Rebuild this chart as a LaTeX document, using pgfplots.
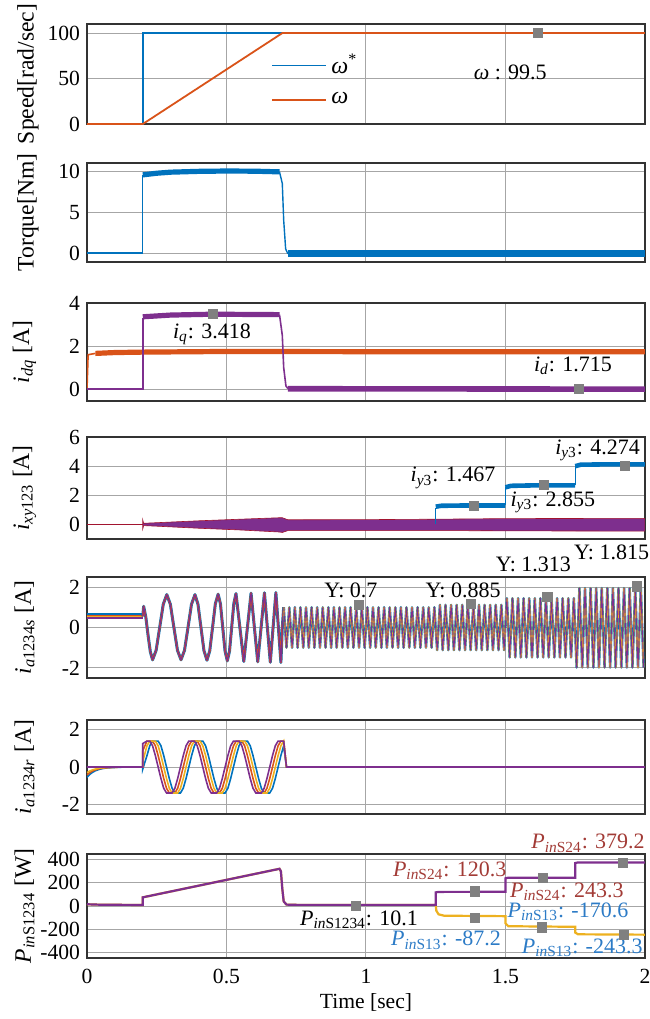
\documentclass[border=0pt]{standalone}
\usepackage{fontspec}
\setmainfont{Liberation Serif}
\usepackage{pgfplots}
\pgfplotsset{compat=1.18}
\usepackage{pgfplotstable}
\definecolor{mblue}{HTML}{0072BD}
\definecolor{morange}{HTML}{D95319}
\definecolor{myellow}{HTML}{EDB120}
\definecolor{mpurple}{HTML}{7E2F8E}
\definecolor{mgreen}{HTML}{77AC30}
\definecolor{mred}{HTML}{A2142F}
\definecolor{mgray}{HTML}{808080}
\definecolor{txtred}{HTML}{A23B36}
\definecolor{txtblue}{HTML}{2C7BC6}
\newcommand{\fa}{\rmfamily\fontsize{11}{13}\selectfont}

% stator phase-a currents: acceleration (chirp) part
\pgfplotstableread[row sep=\\]{
t v\\
0.200 0.55\\0.203 1.05\\0.211 0.50\\0.219 -0.40\\0.227 -1.20\\0.235 -1.60\\
0.2478 -1.13\\0.2605 0\\0.2733 1.15\\0.286 1.63\\0.2988 1.15\\0.3115 0\\0.3243 -1.13\\0.337 -1.60\\
0.3495 -1.13\\0.362 0\\0.3745 1.15\\0.387 1.63\\0.3978 1.15\\0.4085 0\\0.4193 -1.15\\0.430 -1.62\\
0.440 -1.15\\0.450 0\\0.460 1.17\\0.470 1.65\\0.4783 1.17\\0.4865 0\\0.4948 -1.17\\0.503 -1.65\\
0.5108 -1.17\\0.5185 0\\0.5263 1.19\\0.534 1.68\\0.548 0\\0.562 -1.68\\0.575 0\\0.588 1.70\\
0.600 0\\0.612 -1.70\\0.624 0\\0.636 1.72\\0.6465 0\\0.657 -1.72\\0.667 0\\0.677 1.73\\0.686 0\\0.695 -1.73\\0.700 0\\0.705 1\\
}\statorA
% stator phase-a currents: constant-speed part
\pgfplotstableread[row sep=\\]{
t v\\
0.705 1\\0.715 -1\\0.725 1\\0.735 -1\\0.745 1\\0.755 -1\\0.765 1\\0.775 -1\\0.785 1\\0.795 -1\\
0.805 1\\0.815 -1\\0.825 1\\0.835 -1\\0.845 1\\0.855 -1\\0.865 1\\0.875 -1\\0.885 1\\0.895 -1\\
0.905 1\\0.915 -1\\0.925 1\\0.935 -1\\0.945 1\\0.955 -1\\0.965 1\\0.975 -1\\0.985 1\\0.995 -1\\
1.005 1\\1.015 -1\\1.025 1\\1.035 -1\\1.045 1\\1.055 -1\\1.065 1\\1.075 -1\\1.085 1\\1.095 -1\\
1.105 1\\1.115 -1\\1.125 1\\1.135 -1\\1.145 1\\1.155 -1\\1.165 1\\1.175 -1\\1.185 1\\1.195 -1\\
1.205 1\\1.215 -1\\1.225 1\\1.235 -1\\1.245 1\\
1.255 -1.12\\1.265 1.12\\1.275 -1.12\\1.285 1.12\\1.295 -1.12\\1.305 1.12\\1.315 -1.12\\1.325 1.12\\1.335 -1.12\\1.345 1.12\\
1.355 -1.12\\1.365 1.12\\1.375 -1.12\\1.385 1.12\\1.395 -1.12\\1.405 1.12\\1.415 -1.12\\1.425 1.12\\1.435 -1.12\\1.445 1.12\\
1.455 -1.12\\1.465 1.12\\1.475 -1.12\\1.485 1.12\\1.495 -1.12\\
1.505 1.45\\1.515 -1.48\\1.525 1.45\\1.535 -1.48\\1.545 1.45\\1.555 -1.48\\1.565 1.45\\1.575 -1.48\\1.585 1.45\\1.595 -1.48\\
1.605 1.45\\1.615 -1.48\\1.625 1.45\\1.635 -1.48\\1.645 1.45\\1.655 -1.48\\1.665 1.45\\1.675 -1.48\\1.685 1.45\\1.695 -1.48\\
1.705 1.45\\1.715 -1.48\\1.725 1.45\\1.735 -1.48\\1.745 1.45\\
1.755 -1.98\\1.765 1.95\\1.775 -1.98\\1.785 1.95\\1.795 -1.98\\1.805 1.95\\1.815 -1.98\\1.825 1.95\\1.835 -1.98\\1.845 1.95\\
1.855 -1.98\\1.865 1.95\\1.875 -1.98\\1.885 1.95\\1.895 -1.98\\1.905 1.95\\1.915 -1.98\\1.925 1.95\\1.935 -1.98\\1.945 1.95\\
1.955 -1.98\\1.965 1.95\\1.975 -1.98\\1.985 1.95\\1.995 -1.98\\
}\statorB

% rotor phase-a currents of the four sets
\pgfplotstableread[row sep=\\]{
t p o y b\\
0.000 0 -0.42 -0.30 -0.55\\0.010 0 -0.30 -0.21 -0.39\\0.020 0 -0.21 -0.15 -0.28\\0.030 0 -0.15 -0.11 -0.20\\
0.045 0 -0.09 -0.06 -0.12\\0.060 0 -0.05 -0.04 -0.07\\0.080 0 -0.03 -0.02 -0.04\\0.110 0 -0.01 -0.01 -0.015\\
0.150 0 0 0 0\\0.200 0 0 0 0\\0.200 1.25 0.87 0.30 -0.10\\
0.215 1.38 1.38 1.13 0.61\\0.225 1.38 1.38 1.38 1.13\\0.235 1.13 1.38 1.38 1.38\\0.245 0.61 1.13 1.38 1.38\\
0.255 0 0.61 1.13 1.38\\0.265 -0.61 0 0.61 1.13\\0.275 -1.13 -0.61 0 0.61\\0.285 -1.38 -1.13 -0.61 0\\
0.295 -1.38 -1.38 -1.13 -0.61\\0.305 -1.38 -1.38 -1.38 -1.13\\0.315 -1.13 -1.38 -1.38 -1.38\\0.325 -0.61 -1.13 -1.38 -1.38\\
0.335 0 -0.61 -1.13 -1.38\\0.345 0.61 0 -0.61 -1.13\\0.355 1.13 0.61 0 -0.61\\0.365 1.38 1.13 0.61 0\\
0.375 1.38 1.38 1.13 0.61\\0.385 1.38 1.38 1.38 1.13\\0.395 1.13 1.38 1.38 1.38\\0.405 0.61 1.13 1.38 1.38\\
0.415 0 0.61 1.13 1.38\\0.425 -0.61 0 0.61 1.13\\0.435 -1.13 -0.61 0 0.61\\0.445 -1.38 -1.13 -0.61 0\\
0.455 -1.38 -1.38 -1.13 -0.61\\0.465 -1.38 -1.38 -1.38 -1.13\\0.475 -1.13 -1.38 -1.38 -1.38\\0.485 -0.61 -1.13 -1.38 -1.38\\
0.495 0 -0.61 -1.13 -1.38\\0.505 0.61 0 -0.61 -1.13\\0.515 1.13 0.61 0 -0.61\\0.525 1.38 1.13 0.61 0\\
0.535 1.38 1.38 1.13 0.61\\0.545 1.38 1.38 1.38 1.13\\0.555 1.13 1.38 1.38 1.38\\0.565 0.61 1.13 1.38 1.38\\
0.575 0 0.61 1.13 1.38\\0.585 -0.61 0 0.61 1.13\\0.595 -1.13 -0.61 0 0.61\\0.605 -1.38 -1.13 -0.61 0\\
0.615 -1.38 -1.38 -1.13 -0.61\\0.625 -1.38 -1.38 -1.38 -1.13\\0.635 -1.13 -1.38 -1.38 -1.38\\0.645 -0.61 -1.13 -1.38 -1.38\\
0.655 0 -0.61 -1.13 -1.38\\0.665 0.61 0 -0.61 -1.13\\0.675 1.13 0.61 0 -0.61\\0.685 1.38 1.13 0.61 0\\
0.695 1.38 1.38 1.13 0.61\\0.705 1.38 1.38 1.38 1.13\\0.715 0 0 0 0\\2.000 0 0 0 0\\
}\rotor

\pgfplotsset{
  panel/.style={
    scale only axis, width=279pt, xmin=0, xmax=2,
    xtick={0,0.5,1,1.5,2}, xticklabels={},
    grid=major, major grid style={draw=black!35, line width=0.5pt},
    axis line style={draw=black!80, line width=0.7pt},
    major tick length=0pt,
    tick label style={font=\rmfamily\fontsize{10.8}{12}\selectfont},
    /pgf/number format/assume math mode=true,
    ylabel style={font=\rmfamily\fontsize{11.8}{13}\selectfont, at={(axis description cs:-0.112,0.5)}, anchor=center},
    clip mode=individual, anchor=north west,
  },
  gmark/.style={only marks, mark=square*, mark size=2.3pt, color=mgray, mark options={draw=mgray, fill=mgray}},
}

\begin{document}
\begin{tikzpicture}
% ---------- Speed ----------
\begin{axis}[panel, at={(0pt,0pt)}, height=50pt, ymin=0, ymax=110, ytick={0,50,100},
  ylabel={Speed[rad/sec]}, ylabel style={at={(axis description cs:-0.106,0.5)}},
  legend style={draw=none, fill=none, at={(axis description cs:0.33,0.74)}, anchor=north west,
    font=\rmfamily\fontsize{12}{13}\selectfont, row sep=4pt, inner sep=0pt},
  legend cell align=left,
  legend image code/.code={\draw[#1] (0pt,0pt) -- (27pt,0pt);}]
\addplot[mblue, line width=0.8pt] coordinates {(0,0)(0.2,0)(0.2,100)(2,100)};
\addlegendentry{\textit{ω}\textsuperscript{*}}
\addplot[morange, line width=0.9pt] coordinates {(0,0)(0.2,0)(0.7,100)(2,100)};
\addlegendentry{\textit{ω}}
\addplot[gmark, forget plot] coordinates {(1.615,100)};
\node[font=\fa] at (axis cs:1.517,57) {\textit{ω} : 99.5};
\end{axis}
% ---------- Torque ----------
\begin{axis}[panel, at={(0pt,-69.5pt)}, height=49.5pt, ymin=-1.1, ymax=11, ytick={0,5,10},
  ylabel={Torque[Nm]}, ylabel style={at={(axis description cs:-0.106,0.5)}}]
\addplot[mblue, line width=0.7pt] coordinates {(0,0)(0.2,0)(0.2,9.5)};
\addplot[mblue, line width=2.6pt] coordinates {(0.2,9.55)(0.25,9.75)(0.3,9.88)(0.4,9.98)(0.5,10.02)(0.6,10.0)(0.69,9.92)};
\addplot[mblue, line width=0.7pt] coordinates {(0.69,9.92)(0.7,8.5)(0.705,4)(0.712,0.5)(0.72,-0.1)};
\addplot[mblue, line width=3.2pt] coordinates {(0.72,-0.08)(2,-0.08)};
\end{axis}
% ---------- idq ----------
\begin{axis}[panel, at={(0pt,-139.5pt)}, height=49pt, ymin=-0.55, ymax=4, ytick={0,2,4},
  ylabel={\textit{i}\textsubscript{\textit{dq}} [A]}]
\addplot[morange, line width=0.8pt] coordinates {(0,0)(0.004,1.6)(0.03,1.66)};
\addplot[morange, line width=2.6pt] coordinates {(0.03,1.66)(0.1,1.7)(0.2,1.72)(0.5,1.75)(1,1.74)(2,1.74)};
\addplot[mpurple, line width=0.8pt] coordinates {(0,0)(0.2,0)(0.2,3.3)};
\addplot[mpurple, line width=2.6pt] coordinates {(0.2,3.36)(0.3,3.44)(0.45,3.48)(0.69,3.46)};
\addplot[mpurple, line width=0.8pt] coordinates {(0.69,3.46)(0.7,2.5)(0.705,1.0)(0.713,0.15)(0.72,0.03)};
\addplot[mpurple, line width=2.8pt] coordinates {(0.72,0.02)(2,0.0)};
\addplot[gmark] coordinates {(0.45,3.5)(1.764,0)};
\node[font=\fa] at (axis cs:0.448,2.55) {\textit{i}\textsubscript{\textit{q}}: 3.418};
\node[font=\fa] at (axis cs:1.742,1.1) {\textit{i}\textsubscript{\textit{d}}: 1.715};
\end{axis}
% ---------- ixy123 ----------
\begin{axis}[panel, at={(0pt,-206.5pt)}, height=51pt, ymin=-1, ymax=6, ytick={0,2,4,6},
  ylabel={\textit{i}\textsubscript{\textit{xy}123} [A]}]
\addplot[mgreen!70!black, line width=0.5pt] coordinates {(0,0)(2,0)};
\addplot[mred, line width=0.4pt] coordinates {(0,0.02)(0.2,0.02)};
\addplot[fill=mpurple, draw=mred, line width=0.3pt] coordinates {(0.2,0.05)(0.2,0.3)(0.203,0.08)(0.25,0.12)(0.4,0.25)(0.55,0.36)(0.69,0.46)(0.7,0.46)(0.72,0.32)(1.0,0.33)(1.25,0.36)(1.5,0.40)(2,0.42)
  (2,-0.46)(1.5,-0.44)(1.25,-0.42)(1.0,-0.42)(0.72,-0.42)(0.7,-0.55)(0.69,-0.52)(0.55,-0.38)(0.4,-0.26)(0.25,-0.12)(0.203,-0.08)(0.2,-0.3)(0.2,-0.05)} -- cycle;
\addplot[mblue, line width=0.7pt] coordinates {(1.25,0)(1.25,1.15)};
\addplot[mblue, line width=2.3pt] coordinates {(1.25,1.22)(1.27,1.28)(1.35,1.3)(1.5,1.3)};
\addplot[mblue, line width=0.7pt] coordinates {(1.5,1.3)(1.5,2.55)};
\addplot[mblue, line width=2.3pt] coordinates {(1.5,2.55)(1.52,2.65)(1.6,2.68)(1.75,2.68)};
\addplot[mblue, line width=0.7pt] coordinates {(1.75,2.68)(1.75,4.0)};
\addplot[mblue, line width=2.3pt] coordinates {(1.75,4.0)(1.77,4.1)(1.85,4.12)(2,4.12)};
\addplot[gmark] coordinates {(1.387,1.28)(1.637,2.72)(1.928,4.03)};
\node[font=\fa] at (axis cs:1.312,3.2) {\textit{i}\textsubscript{\textit{y}3}: 1.467};
\node[font=\fa] at (axis cs:1.67,1.54) {\textit{i}\textsubscript{\textit{y}3}: 2.855};
\node[font=\fa] at (axis cs:1.83,5.1) {\textit{i}\textsubscript{\textit{y}3}: 4.274};
\end{axis}
% ---------- ia1234s ----------
\begin{axis}[panel, at={(0pt,-276.5pt)}, height=50.5pt, ymin=-2.5, ymax=2.5, ytick={-2,0,2},
  ylabel={\textit{i}\textsubscript{\textit{a}1234\textit{s}} [A]}]
\addplot[mblue, line width=1pt] coordinates {(0,0.66)(0.2,0.66)};
\addplot[myellow, line width=1.2pt] coordinates {(0,0.58)(0.2,0.58)};
\addplot[morange, line width=0.8pt] coordinates {(0,0.6)(0.2,0.6)};
\addplot[mpurple, line width=0.8pt] coordinates {(0,0.47)(0.2,0.47)};
\addplot[mblue, line width=1.5pt, line join=round] table[x=t, y=v] {\statorA};
\addplot[morange, line width=1.0pt, line join=round] table[x=t, y=v] {\statorA};
\addplot[mpurple, line width=0.6pt, line join=round] table[x=t, y=v] {\statorA};
\addplot[mblue, line width=1.2pt, line join=round] table[x=t, y=v] {\statorB};
\addplot[myellow, line width=0.8pt, line join=round] table[x=t, y=v] {\statorB};
\addplot[mpurple, line width=0.45pt, line join=round] table[x=t, y=v] {\statorB};
\addplot[gmark] coordinates {(0.975,1.1)(1.376,1.18)(1.65,1.5)(1.97,2.04)};
\node[font=\fa] at (axis cs:0.946,1.83) {Y: 0.7};
\node[font=\fa] at (axis cs:1.348,1.83) {Y: 0.885};
\node[font=\fa] at (axis cs:1.6,3.13) {Y: 1.313};
\node[font=\fa] at (axis cs:1.88,3.7) {Y: 1.815};
\end{axis}
% ---------- ia1234r ----------
\begin{axis}[panel, at={(0pt,-348pt)}, height=47pt, ymin=-2.5, ymax=2.5, ytick={-2,0,2},
  ylabel={\textit{i}\textsubscript{\textit{a}1234\textit{r}} [A]}]
\addplot[mblue, line width=0.8pt] table[x=t, y=b] {\rotor};
\addplot[morange, line width=0.8pt] table[x=t, y=o] {\rotor};
\addplot[myellow, line width=0.8pt] table[x=t, y=y] {\rotor};
\addplot[mpurple, line width=0.8pt] table[x=t, y=p] {\rotor};
\addplot[mpurple, line width=1.4pt] coordinates {(0.715,0)(2,0)};
\end{axis}
% ---------- PinS1234 ----------
\begin{axis}[panel, at={(0pt,-415pt)}, height=52pt, ymin=-450, ymax=450, ytick={-400,-200,0,200,400},
  ylabel={\textit{P}\textsubscript{\textit{in}S1234} [W]},
  xticklabels={0,0.5,1,1.5,2}, xticklabel style={yshift=-2pt},
  xlabel={Time [sec]}, xlabel style={font=\rmfamily\fontsize{10.8}{13}\selectfont, at={(axis description cs:0.5,-0.43)}, anchor=center}]
\addplot[myellow, line width=1.1pt] coordinates {(0,15)(0.05,11)(0.2,9)(0.2,75)(0.69,322)(0.695,300)(0.7,150)(0.705,40)(0.715,12)(0.75,10)(1.25,10)(1.252,-40)(1.26,-72)(1.28,-84)(1.5,-88)(1.5,-150)(1.51,-175)(1.75,-180)(1.75,-230)(1.76,-245)(2,-248)};
\addplot[mpurple, line width=1.1pt] coordinates {(0,15)(0.05,11)(0.2,9)(0.2,75)(0.69,322)(0.695,300)(0.7,150)(0.705,40)(0.715,12)(0.75,10)(1.25,10)(1.25,118)(1.26,122)(1.5,123)(1.5,240)(1.51,245)(1.75,245)(1.75,372)(1.76,377)(2,377)};
\node[font=\fa] at (axis cs:0.975,-122) {\textit{P}\textsubscript{\textit{in}S1234}: 10.1};
\node[font=\fa, text=txtred] at (axis cs:1.30,302) {\textit{P}\textsubscript{\textit{in}S24}: 120.3};
\node[font=\fa, text=txtblue] at (axis cs:1.287,-296) {\textit{P}\textsubscript{\textit{in}S13}: -87.2};
\node[font=\fa, text=txtred] at (axis cs:1.72,121) {\textit{P}\textsubscript{\textit{in}S24}: 243.3};
\node[font=\fa, text=txtblue] at (axis cs:1.724,-52) {\textit{P}\textsubscript{\textit{in}S13}: -170.6};
\node[font=\fa, text=txtred] at (axis cs:1.796,542) {\textit{P}\textsubscript{\textit{in}S24}: 379.2};
\node[font=\fa, text=txtblue] at (axis cs:1.775,-359) {\textit{P}\textsubscript{\textit{in}S13}: -243.3};
\addplot[gmark] coordinates {(0.965,0)(1.39,127)(1.39,-100)(1.635,241)(1.63,-186)(1.92,370)(1.925,-252)};
\end{axis}
\pgfresetboundingbox
\path[use as bounding box] (-43.5pt,12pt) rectangle (281pt,-497.5pt);
\end{tikzpicture}
\end{document}
